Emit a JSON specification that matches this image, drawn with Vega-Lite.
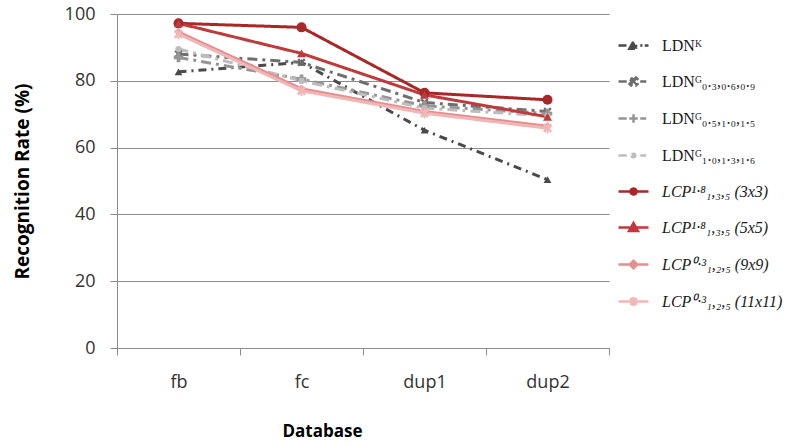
{
  "$schema": "https://vega.github.io/schema/vega-lite/v6.json",
  "width": 492,
  "height": 334,
  "autosize": {"type": "none"},
  "padding": {"left": 117, "top": 14, "right": 176, "bottom": 98},
  "background": "white",
  "config": {"view": {"stroke": null}, "font": "Open Sans"},
  "data": {"values": [
    {"series": "LDNᴷ", "db": "fb", "rate": 82.7},
    {"series": "LDNᴷ", "db": "fc", "rate": 85.5},
    {"series": "LDNᴷ", "db": "dup1", "rate": 65.2},
    {"series": "LDNᴷ", "db": "dup2", "rate": 50.4},
    {"series": "LDNᴳ₀.₃,₀.₆,₀.₉", "db": "fb", "rate": 88.0},
    {"series": "LDNᴳ₀.₃,₀.₆,₀.₉", "db": "fc", "rate": 85.5},
    {"series": "LDNᴳ₀.₃,₀.₆,₀.₉", "db": "dup1", "rate": 73.5},
    {"series": "LDNᴳ₀.₃,₀.₆,₀.₉", "db": "dup2", "rate": 70.8},
    {"series": "LDNᴳ₀.₅,₁.₀,₁.₅", "db": "fb", "rate": 87.0},
    {"series": "LDNᴳ₀.₅,₁.₀,₁.₅", "db": "fc", "rate": 80.5},
    {"series": "LDNᴳ₀.₅,₁.₀,₁.₅", "db": "dup1", "rate": 72.5},
    {"series": "LDNᴳ₀.₅,₁.₀,₁.₅", "db": "dup2", "rate": 70.2},
    {"series": "LDNᴳ₁.₀,₁.₃,₁.₆", "db": "fb", "rate": 89.5},
    {"series": "LDNᴳ₁.₀,₁.₃,₁.₆", "db": "fc", "rate": 80.0},
    {"series": "LDNᴳ₁.₀,₁.₃,₁.₆", "db": "dup1", "rate": 71.8},
    {"series": "LDNᴳ₁.₀,₁.₃,₁.₆", "db": "dup2", "rate": 69.5},
    {"series": "LCP¹·⁸₁,₃,₅ (3x3)", "db": "fb", "rate": 97.2},
    {"series": "LCP¹·⁸₁,₃,₅ (3x3)", "db": "fc", "rate": 96.0},
    {"series": "LCP¹·⁸₁,₃,₅ (3x3)", "db": "dup1", "rate": 76.4},
    {"series": "LCP¹·⁸₁,₃,₅ (3x3)", "db": "dup2", "rate": 74.3},
    {"series": "LCP¹·⁸₁,₃,₅ (5x5)", "db": "fb", "rate": 97.2},
    {"series": "LCP¹·⁸₁,₃,₅ (5x5)", "db": "fc", "rate": 88.2},
    {"series": "LCP¹·⁸₁,₃,₅ (5x5)", "db": "dup1", "rate": 75.8},
    {"series": "LCP¹·⁸₁,₃,₅ (5x5)", "db": "dup2", "rate": 69.2},
    {"series": "LCP⁰·³₁,₂,₅ (9x9)", "db": "fb", "rate": 94.6},
    {"series": "LCP⁰·³₁,₂,₅ (9x9)", "db": "fc", "rate": 77.6},
    {"series": "LCP⁰·³₁,₂,₅ (9x9)", "db": "dup1", "rate": 70.8},
    {"series": "LCP⁰·³₁,₂,₅ (9x9)", "db": "dup2", "rate": 66.4},
    {"series": "LCP⁰·³₁,₂,₅ (11x11)", "db": "fb", "rate": 94.0},
    {"series": "LCP⁰·³₁,₂,₅ (11x11)", "db": "fc", "rate": 77.0},
    {"series": "LCP⁰·³₁,₂,₅ (11x11)", "db": "dup1", "rate": 70.3},
    {"series": "LCP⁰·³₁,₂,₅ (11x11)", "db": "dup2", "rate": 65.8}
  ]},
  "encoding": {
    "x": {
      "field": "db", "type": "nominal", "sort": ["fb", "fc", "dup1", "dup2"],
      "scale": {"type": "band", "paddingInner": 0, "paddingOuter": 0},
      "bandPosition": 0.5,
      "axis": {"title": "Database", "titleFontSize": 17, "titleFontWeight": "bold", "titleColor": "#000", "titlePadding": 32,
               "titleX": 205, "titleAlign": "center",
               "labelAngle": 0, "labelFontSize": 18, "labelColor": "#333", "labelPadding": 18,
               "tickSize": 7, "tickColor": "#8c8c8c", "domainColor": "#8c8c8c", "tickBand": "extent", "grid": false}
    },
    "y": {
      "field": "rate", "type": "quantitative", "scale": {"domain": [0, 100]},
      "axis": {"title": "Recognition Rate (%)", "values": [0, 20, 40, 60, 80, 100], "grid": true, "gridColor": "#8c8c8c",
               "labelFontSize": 18, "labelColor": "#333", "labelPadding": 15, "tickSize": 7, "tickColor": "#8c8c8c",
               "domainColor": "#8c8c8c", "titleFontSize": 19, "titleFontWeight": "bold", "titleColor": "#000", "titlePadding": 32}
    },
    "color": {
      "field": "series", "type": "nominal",
      "scale": {
        "domain": ["LDNᴷ", "LDNᴳ₀.₃,₀.₆,₀.₉", "LDNᴳ₀.₅,₁.₀,₁.₅", "LDNᴳ₁.₀,₁.₃,₁.₆", "LCP¹·⁸₁,₃,₅ (3x3)", "LCP¹·⁸₁,₃,₅ (5x5)", "LCP⁰·³₁,₂,₅ (9x9)", "LCP⁰·³₁,₂,₅ (11x11)"],
        "range": ["#4a4a4a", "#6e6e6e", "#959595", "#bdbdbd", "#a8282a", "#c0393b", "#e38f8f", "#f2b6b6"]
      },
      "legend": {
        "orient": "none", "legendX": 500, "legendY": 15, "title": null, "padding": 0,
        "symbolSize": 900, "rowPadding": 11, "labelOffset": 12,
        "labelFont": "Liberation Serif", "labelFontSize": 16, "labelColor": "#1a1a1a", "labelLimit": 200,
        "encode": {
          "symbols": {"update": {
            "shape": {"signal": "datum.value === 'LDNᴷ' ? 'M-1,0H-0.45M0.45,0H0.6M0.75,0H1M-0.28,0.22L0,-0.28L0.28,0.22Z' : datum.value === 'LDNᴳ₀.₃,₀.₆,₀.₉' ? 'M-1,0H-0.45M0.45,0H0.85M-0.16,-0.265L0,-0.106L0.16,-0.265L0.265,-0.16L0.106,0L0.265,0.16L0.16,0.265L0,0.106L-0.16,0.265L-0.265,0.16L-0.106,0L-0.265,-0.16Z' : datum.value === 'LDNᴳ₀.₅,₁.₀,₁.₅' ? 'M-1,0H-0.45M0.45,0H0.85M-0.28,0H0.28M0,-0.28V0.28' : datum.value === 'LDNᴳ₁.₀,₁.₃,₁.₆' ? 'M-1,0H-0.45M0.45,0H0.85M-0.12,0A0.12,0.12 0 1,0 0.12,0A0.12,0.12 0 1,0 -0.12,0Z' : datum.value === 'LCP¹·⁸₁,₃,₅ (3x3)' ? 'M-1,0H1M-0.2,0A0.2,0.2 0 1,0 0.2,0A0.2,0.2 0 1,0 -0.2,0Z' : datum.value === 'LCP¹·⁸₁,₃,₅ (5x5)' ? 'M-1,0H1M-0.3,0.24L0,-0.3L0.3,0.24Z' : datum.value === 'LCP⁰·³₁,₂,₅ (9x9)' ? 'M-1,0H1M0,-0.25L0.25,0L0,0.25L-0.25,0Z' : 'M-1,0H1M-0.22,-0.22L0.22,0.22M0.22,-0.22L-0.22,0.22M0,-0.3V0.3'"},
            "size": {"value": 900},
            "fill": {"scale": "color", "field": "value"},
            "stroke": {"scale": "color", "field": "value"},
            "strokeWidth": {"value": 2.5},
            "strokeDash": {"value": [1, 0]},
            "opacity": {"value": 1}
          }},
          "labels": {"update": {
            "fontStyle": {"signal": "indexof(datum.label, 'LCP') === 0 ? 'italic' : 'normal'"}
          }}
        }
      }
    }
  },
  "layer": [
    {
      "mark": {"type": "line", "strokeWidth": 3},
      "encoding": {
        "strokeDash": {
          "field": "series", "type": "nominal", "legend": null,
          "scale": {
            "domain": ["LDNᴷ", "LDNᴳ₀.₃,₀.₆,₀.₉", "LDNᴳ₀.₅,₁.₀,₁.₅", "LDNᴳ₁.₀,₁.₃,₁.₆", "LCP¹·⁸₁,₃,₅ (3x3)", "LCP¹·⁸₁,₃,₅ (5x5)", "LCP⁰·³₁,₂,₅ (9x9)", "LCP⁰·³₁,₂,₅ (11x11)"],
            "range": [[8, 5, 2, 5], [10, 5, 3, 5], [10, 5, 3, 5], [10, 5, 3, 5], [1, 0], [1, 0], [1, 0], [1, 0]]
          }
        }
      }
    },
    {"transform": [{"filter": {"field": "series", "equal": "LDNᴷ"}}],
     "mark": {"type": "point", "filled": true, "opacity": 1, "shape": "triangle-up", "size": 60}},
    {"transform": [{"filter": {"field": "series", "equal": "LDNᴳ₀.₃,₀.₆,₀.₉"}}],
     "mark": {"type": "point", "filled": true, "opacity": 1, "size": 90, "shape": "M-0.53,-0.884L0,-0.354L0.53,-0.884L0.884,-0.53L0.354,0L0.884,0.53L0.53,0.884L0,0.354L-0.53,0.884L-0.884,0.53L-0.354,0L-0.884,-0.53Z"}},
    {"transform": [{"filter": {"field": "series", "equal": "LDNᴳ₀.₅,₁.₀,₁.₅"}}],
     "mark": {"type": "point", "filled": true, "opacity": 1, "size": 90, "shape": "cross"}},
    {"transform": [{"filter": {"field": "series", "equal": "LDNᴳ₁.₀,₁.₃,₁.₆"}}],
     "mark": {"type": "point", "filled": true, "opacity": 1, "size": 40, "shape": "circle"}},
    {"transform": [{"filter": {"field": "series", "equal": "LCP¹·⁸₁,₃,₅ (3x3)"}}],
     "mark": {"type": "point", "filled": true, "opacity": 1, "size": 100, "shape": "circle"}},
    {"transform": [{"filter": {"field": "series", "equal": "LCP¹·⁸₁,₃,₅ (5x5)"}}],
     "mark": {"type": "point", "filled": true, "opacity": 1, "size": 80, "shape": "triangle-up"}},
    {"transform": [{"filter": {"field": "series", "equal": "LCP⁰·³₁,₂,₅ (9x9)"}}],
     "mark": {"type": "point", "filled": true, "opacity": 1, "size": 70, "shape": "diamond"}},
    {"transform": [{"filter": {"field": "series", "equal": "LCP⁰·³₁,₂,₅ (11x11)"}}],
     "mark": {"type": "point", "filled": true, "opacity": 1, "size": 110, "shape": "M-0.53,-0.884L0,-0.354L0.53,-0.884L0.884,-0.53L0.354,0L0.884,0.53L0.53,0.884L0,0.354L-0.53,0.884L-0.884,0.53L-0.354,0L-0.884,-0.53ZM-0.18,-1H0.18V1H-0.18Z"}}
  ]
}
